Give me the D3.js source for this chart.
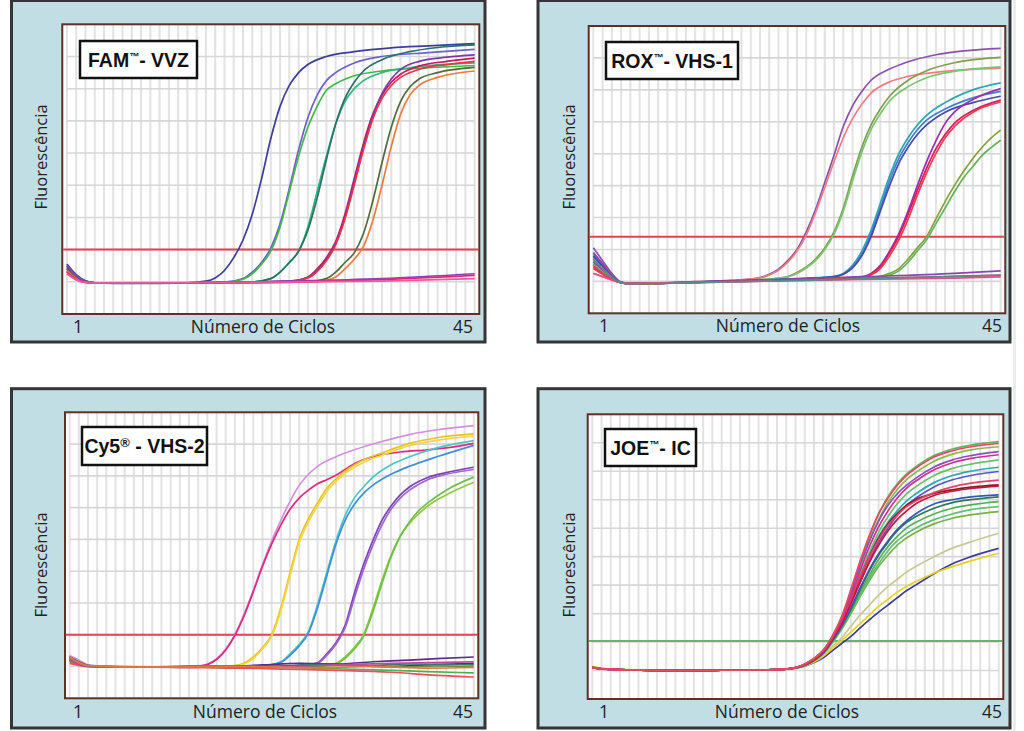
<!DOCTYPE html>
<html><head><meta charset="utf-8">
<script src="https://cdn.jsdelivr.net/npm/d3@7"></script>
<style>
html,body{margin:0;padding:0;background:#fff;}
svg{display:block;}
</style></head>
<body>
<svg id="chart" width="1024" height="731"></svg>
<script>
// ---------------- DATA ----------------
const panelTitles = ["FAM", "ROX", "Cy5", "JOE"];
const panelMarks = ["™", "™", "®", "™"];
const panelTargets = ["- VVZ", "- VHS-1", " - VHS-2", "- IC"];
const xLabel = "Número de Ciclos";
const yLabel = "Fluorescência";
const cycleTickLabels = ["1", "45"];
const cycleDomain = [1, 45];
const gridDivisions = [9, 9, 9, 10];
const thresholds = [2.0, 2.4, 2.0, 2.04];

// FAM - VVZ curves: [cycle, fluorescence]
const famSeries = [
 [[1,1.55],[2,1.22],[3,1.03],[4,0.97],[8,0.95],[14,0.97],[16,1.02],[17,1.12],[18,1.35],[19,1.75],[20,2.3],[21,3.1],[22,4.2],[23,5.45],[24,6.45],[25,7.1],[26,7.5],[27,7.75],[29,8.0],[32,8.15],[36,8.27],[40,8.33],[45,8.4]],
 [[1,1.5],[2,1.2],[3,1.02],[4,0.97],[10,0.96],[18,0.99],[20,1.1],[21,1.3],[22,1.6],[23,2.05],[24,2.8],[25,3.9],[26,5.1],[27,6.1],[28,6.8],[29,7.25],[30,7.5],[32,7.8],[35,8.0],[40,8.12],[45,8.22]],
 [[1,1.45],[2,1.15],[3,1.0],[4,0.97],[10,0.96],[18,0.99],[20,1.08],[21,1.25],[22,1.55],[23,1.95],[24,2.7],[25,3.8],[26,4.9],[27,5.8],[28,6.45],[29,6.95],[30,7.15],[32,7.4],[35,7.55],[40,7.65],[45,7.72]],
 [[1,1.4],[2,1.12],[3,1.0],[4,0.97],[12,0.96],[21,1.0],[23,1.1],[24,1.3],[25,1.6],[26,1.95],[27,2.7],[28,3.8],[29,4.9],[30,5.9],[31,6.6],[32,7.0],[33,7.25],[35,7.5],[38,7.65],[45,7.8]],
 [[1,1.5],[2,1.2],[3,1.02],[4,0.97],[12,0.96],[21,1.0],[23,1.1],[24,1.3],[25,1.6],[26,1.95],[27,2.6],[28,3.6],[29,4.8],[30,5.9],[31,6.7],[32,7.2],[33,7.55],[35,7.9],[38,8.15],[41,8.28],[45,8.36]],
 [[1,1.35],[2,1.1],[3,0.99],[4,0.97],[15,0.97],[25,1.02],[27,1.15],[28,1.4],[29,1.75],[30,2.25],[31,3.1],[32,4.2],[33,5.3],[34,6.2],[35,6.8],[36,7.2],[37,7.45],[39,7.7],[42,7.85],[45,7.95]],
 [[1,1.45],[2,1.15],[3,1.0],[4,0.97],[15,0.97],[25,1.02],[27,1.13],[28,1.35],[29,1.7],[30,2.2],[31,3.0],[32,4.1],[33,5.2],[34,6.15],[35,6.85],[36,7.3],[37,7.6],[39,7.85],[42,7.98],[45,8.05]],
 [[1,1.3],[2,1.08],[3,0.98],[4,0.97],[15,0.97],[25,1.01],[27,1.12],[28,1.32],[29,1.65],[30,2.15],[31,2.95],[32,4.0],[33,5.1],[34,6.05],[35,6.7],[36,7.1],[37,7.35],[39,7.6],[42,7.75],[45,7.85]],
 [[1,1.4],[2,1.12],[3,1.0],[4,0.97],[15,0.96],[27,1.0],[29,1.1],[30,1.3],[31,1.6],[32,1.9],[33,2.5],[34,3.5],[35,4.7],[36,5.8],[37,6.6],[38,7.05],[39,7.3],[41,7.5],[45,7.66]],
 [[1,1.35],[2,1.1],[3,0.99],[4,0.97],[15,0.96],[28,1.0],[30,1.15],[31,1.4],[32,1.7],[33,2.1],[34,2.9],[35,4.0],[36,5.2],[37,6.2],[38,6.8],[39,7.1],[41,7.35],[45,7.55]],
 [[1,1.5],[2,1.18],[3,1.01],[4,0.97],[15,0.97],[25,1.02],[35,1.1],[45,1.25]],
 [[1,1.3],[2,1.08],[3,0.98],[4,0.97],[15,0.97],[25,1.0],[35,1.07],[45,1.2]],
 [[1,1.25],[2,1.06],[3,0.98],[4,0.97],[20,0.98],[35,1.02],[45,1.1]]
];
const famColors = ["#3c3c9c","#6d5fcf","#45b649","#2fb877","#2b6f6a","#c8175d","#7a3aa8","#e8344a","#4f6b3a","#ec7b3c","#8f3fb0","#e3238b","#ec5a9a"];

// ROX - VHS-1 curves
const roxSeries = [
 [[1,2.05],[2,1.65],[3,1.25],[4,0.98],[5,0.93],[8,0.95],[12,0.99],[16,1.03],[19,1.12],[20,1.22],[21,1.38],[22,1.65],[23,2.0],[24,2.55],[25,3.25],[26,4.1],[27,4.95],[28,5.85],[29,6.5],[30,6.95],[31,7.3],[33,7.65],[35,7.88],[38,8.1],[41,8.22],[45,8.3]],
 [[1,1.25],[2,1.15],[3,1.05],[4,0.97],[5,0.94],[8,0.95],[12,0.99],[16,1.03],[19,1.1],[20,1.2],[21,1.35],[22,1.6],[23,1.95],[24,2.45],[25,3.15],[26,3.95],[27,4.75],[28,5.5],[29,6.1],[30,6.55],[31,6.9],[33,7.25],[35,7.42],[38,7.55],[45,7.68]],
 [[1,1.9],[2,1.55],[3,1.2],[4,0.97],[5,0.92],[8,0.94],[12,0.98],[16,1.02],[20,1.07],[22,1.15],[23,1.28],[24,1.45],[25,1.7],[26,2.05],[27,2.55],[28,3.3],[29,4.3],[30,5.2],[31,5.9],[32,6.4],[33,6.8],[35,7.3],[37,7.6],[40,7.85],[45,8.02]],
 [[1,1.7],[2,1.4],[3,1.12],[4,0.96],[5,0.92],[8,0.94],[12,0.98],[16,1.02],[20,1.07],[22,1.14],[23,1.25],[24,1.42],[25,1.65],[26,2.0],[27,2.48],[28,3.2],[29,4.15],[30,5.05],[31,5.75],[32,6.25],[33,6.65],[35,7.1],[37,7.38],[40,7.58],[45,7.72]],
 [[1,1.85],[2,1.5],[3,1.18],[4,0.97],[5,0.93],[8,0.94],[12,0.98],[18,1.04],[24,1.1],[27,1.16],[28,1.25],[29,1.5],[30,1.95],[31,2.6],[32,3.45],[33,4.3],[34,5.0],[35,5.5],[36,5.9],[37,6.2],[39,6.6],[42,7.0],[45,7.22]],
 [[1,1.75],[2,1.45],[3,1.15],[4,0.97],[5,0.93],[8,0.94],[12,0.98],[18,1.03],[24,1.09],[27,1.15],[28,1.23],[29,1.45],[30,1.85],[31,2.5],[32,3.3],[33,4.15],[34,4.85],[35,5.35],[36,5.75],[37,6.05],[39,6.4],[42,6.75],[45,6.95]],
 [[1,1.8],[2,1.48],[3,1.16],[4,0.97],[5,0.93],[8,0.94],[12,0.98],[18,1.03],[24,1.09],[27,1.14],[28,1.22],[29,1.42],[30,1.8],[31,2.4],[32,3.2],[33,4.0],[34,4.7],[35,5.2],[36,5.6],[37,5.9],[39,6.3],[42,6.6],[45,6.8]],
 [[1,1.6],[2,1.35],[3,1.1],[4,0.96],[5,0.93],[8,0.94],[14,0.99],[20,1.04],[26,1.1],[30,1.15],[31,1.25],[32,1.5],[33,1.95],[34,2.5],[35,3.2],[36,4.0],[37,4.75],[38,5.4],[39,5.95],[40,6.3],[42,6.7],[45,7.04]],
 [[1,1.5],[2,1.3],[3,1.08],[4,0.96],[5,0.93],[8,0.94],[14,0.99],[20,1.03],[26,1.08],[30,1.13],[31,1.22],[32,1.45],[33,1.9],[34,2.42],[35,3.1],[36,3.85],[37,4.55],[38,5.15],[39,5.6],[40,5.95],[42,6.35],[45,6.68]],
 [[1,1.4],[2,1.22],[3,1.05],[4,0.96],[5,0.93],[8,0.94],[14,0.98],[20,1.02],[26,1.07],[30,1.12],[31,1.2],[32,1.4],[33,1.8],[34,2.3],[35,2.95],[36,3.7],[37,4.4],[38,5.0],[39,5.5],[40,5.85],[42,6.3],[45,6.62]],
 [[1,1.7],[2,1.4],[3,1.12],[4,0.96],[5,0.92],[8,0.94],[14,0.98],[20,1.03],[28,1.1],[32,1.16],[33,1.25],[34,1.4],[35,1.7],[36,2.05],[37,2.4],[38,2.95],[39,3.5],[40,4.0],[41,4.45],[42,4.85],[43,5.2],[44,5.5],[45,5.74]],
 [[1,1.55],[2,1.3],[3,1.08],[4,0.95],[5,0.92],[8,0.94],[14,0.98],[20,1.02],[28,1.08],[32,1.14],[33,1.2],[34,1.33],[35,1.6],[36,1.95],[37,2.3],[38,2.8],[39,3.3],[40,3.8],[41,4.25],[42,4.6],[43,4.95],[44,5.2],[45,5.42]],
 [[1,1.9],[2,1.55],[3,1.2],[4,0.97],[5,0.93],[10,0.96],[20,1.04],[30,1.14],[40,1.25],[45,1.33]],
 [[1,1.45],[2,1.25],[3,1.07],[4,0.96],[5,0.93],[10,0.95],[20,1.02],[30,1.09],[40,1.15],[45,1.19]],
 [[1,1.25],[2,1.15],[3,1.04],[4,0.97],[5,0.94],[10,0.95],[20,1.01],[30,1.06],[40,1.1],[45,1.14]],
 [[1,1.65],[2,1.4],[3,1.12],[4,0.96],[5,0.93],[12,0.96],[25,1.04],[45,1.2]]
];
const roxColors = ["#8b4fae","#f27a86","#7f9e4f","#79c66e","#29a7b0","#3f7fd0","#4a4aa8","#9a2fb0","#d81b60","#ee3a4a","#86a03c","#63b35a","#8e44ad","#e8364a","#ea4f8f","#5a8a8a"];

// Cy5 - VHS-2 curves
const cySeries = [
 [[1,1.35],[2,1.2],[3,1.05],[4,0.99],[8,0.98],[12,0.99],[15,1.02],[16,1.08],[17,1.25],[18,1.55],[19,2.0],[20,2.65],[21,3.4],[22,4.2],[23,4.95],[24,5.6],[25,6.2],[26,6.7],[27,7.05],[28,7.3],[30,7.6],[32,7.82],[35,8.08],[38,8.3],[41,8.45],[45,8.58]],
 [[1,1.2],[2,1.12],[3,1.02],[4,0.99],[8,0.98],[12,0.99],[15,1.01],[16,1.06],[17,1.22],[18,1.52],[19,1.98],[20,2.6],[21,3.35],[22,4.15],[23,4.85],[24,5.45],[25,5.95],[26,6.3],[27,6.55],[28,6.75],[29,6.88],[30,7.02],[31,7.2],[32,7.38],[34,7.6],[37,7.75],[40,7.82],[43,7.92],[45,8.02]],
 [[1,1.3],[2,1.15],[3,1.03],[4,0.99],[10,0.98],[16,0.99],[19,1.03],[20,1.1],[21,1.3],[22,1.6],[23,2.0],[24,2.85],[25,3.95],[26,5.0],[27,5.65],[28,6.15],[29,6.6],[30,6.9],[31,7.15],[33,7.5],[35,7.72],[38,8.02],[41,8.2],[45,8.32]],
 [[1,1.25],[2,1.12],[3,1.02],[4,0.99],[10,0.98],[16,0.99],[19,1.02],[20,1.08],[21,1.25],[22,1.55],[23,1.95],[24,2.75],[25,3.85],[26,4.9],[27,5.55],[28,6.05],[29,6.5],[30,6.82],[31,7.08],[33,7.42],[35,7.65],[38,7.95],[41,8.12],[45,8.25]],
 [[1,1.25],[2,1.12],[3,1.02],[4,0.99],[10,0.98],[18,0.99],[22,1.02],[24,1.15],[25,1.4],[26,1.7],[27,2.1],[28,2.95],[29,3.95],[30,4.95],[31,5.75],[32,6.3],[33,6.65],[34,6.95],[36,7.35],[38,7.6],[41,7.88],[45,8.11]],
 [[1,1.2],[2,1.1],[3,1.01],[4,0.99],[10,0.98],[18,0.99],[22,1.02],[24,1.13],[25,1.35],[26,1.65],[27,2.05],[28,2.85],[29,3.85],[30,4.85],[31,5.6],[32,6.1],[33,6.45],[34,6.7],[36,7.05],[38,7.3],[41,7.6],[45,7.96]],
 [[1,1.3],[2,1.15],[3,1.03],[4,0.99],[10,0.98],[20,1.0],[26,1.03],[28,1.12],[29,1.4],[30,1.75],[31,2.3],[32,3.3],[33,4.2],[34,4.95],[35,5.6],[36,6.05],[37,6.4],[38,6.65],[40,6.95],[42,7.1],[45,7.27]],
 [[1,1.22],[2,1.1],[3,1.01],[4,0.99],[10,0.98],[20,1.0],[26,1.03],[28,1.1],[29,1.35],[30,1.7],[31,2.22],[32,3.15],[33,4.05],[34,4.8],[35,5.45],[36,5.95],[37,6.3],[38,6.55],[40,6.88],[42,7.05],[45,7.2]],
 [[1,1.25],[2,1.1],[3,1.02],[4,0.99],[10,0.98],[20,0.99],[28,1.02],[30,1.1],[31,1.3],[32,1.6],[33,2.0],[34,2.8],[35,3.7],[36,4.5],[37,5.1],[38,5.5],[39,5.8],[40,6.05],[42,6.4],[45,6.8]],
 [[1,1.18],[2,1.08],[3,1.01],[4,0.99],[10,0.98],[20,0.99],[28,1.02],[30,1.08],[31,1.26],[32,1.55],[33,1.95],[34,2.7],[35,3.6],[36,4.45],[37,5.1],[38,5.55],[39,5.9],[40,6.15],[42,6.55],[45,6.96]],
 [[1,1.3],[3,1.03],[6,0.98],[10,0.99],[14,0.97],[18,1.0],[22,1.05],[26,1.1],[30,1.08],[34,1.15],[38,1.2],[41,1.25],[45,1.3]],
 [[1,1.2],[3,1.02],[8,0.98],[14,0.99],[20,0.96],[26,1.03],[30,1.06],[35,1.0],[40,1.05],[45,1.1]],
 [[1,1.3],[3,1.04],[8,0.99],[15,1.0],[22,0.98],[28,1.06],[33,1.02],[38,1.08],[45,1.05]],
 [[1,1.15],[3,1.0],[8,0.99],[16,0.98],[24,0.97],[30,0.93],[36,0.88],[40,0.84],[45,0.8]],
 [[1,1.1],[3,1.0],[10,0.98],[18,0.96],[24,0.92],[30,0.88],[36,0.82],[41,0.72],[45,0.67]],
 [[1,1.25],[3,1.02],[10,0.99],[18,1.01],[25,0.98],[31,1.04],[37,0.98],[41,1.02],[45,0.98]],
 [[1,1.2],[3,1.0],[9,0.98],[16,1.02],[24,0.99],[30,1.05],[36,1.1],[45,1.15]],
 [[1,1.3],[3,1.03],[10,0.98],[20,1.0],[28,0.96],[34,1.0],[40,0.95],[45,0.97]]
];
const cyColors = ["#d38fdc","#e0287f","#e8c51a","#f2d54a","#4cc5c9","#3f8fd6","#7a3fba","#a066c8","#8fc93a","#6cc04a","#5b2d8a","#2e3b8c","#2d7a7a","#4caf50","#e8505a","#7a8a3a","#c04a9a","#e07a3a"];

// JOE - IC curves (shared cycles)
const joeCycles = [1,2,5,10,15,20,22,23,24,25,26,27,28,29,30,31,32,33,34,35,36,38,40,42,45];
const joeSeries = [
 [1.12,1.07,1.02,1.0,1.01,1.02,1.05,1.08,1.17,1.32,1.55,1.85,2.15,2.55,2.95,3.3,3.65,3.95,4.2,4.45,4.65,5.0,5.3,5.52,5.82],
 [1.1,1.06,1.02,1.0,1.01,1.02,1.05,1.08,1.15,1.28,1.45,1.7,1.95,2.2,2.5,2.78,3.05,3.3,3.55,3.8,4.0,4.4,4.75,5.0,5.29],
 [1.14,1.08,1.03,1.0,1.01,1.02,1.05,1.08,1.16,1.3,1.5,1.78,2.05,2.35,2.65,2.95,3.25,3.5,3.75,3.95,4.12,4.42,4.65,4.85,5.12],
 [1.1,1.06,1.02,1.0,1.01,1.02,1.05,1.09,1.18,1.34,1.58,1.98,2.45,3.0,3.6,4.15,4.65,5.05,5.4,5.65,5.85,6.15,6.35,6.47,6.58],
 [1.11,1.06,1.02,1.0,1.01,1.02,1.05,1.09,1.19,1.35,1.6,2.0,2.48,3.05,3.65,4.25,4.75,5.2,5.55,5.8,6.0,6.3,6.5,6.65,6.76],
 [1.1,1.06,1.02,1.0,1.01,1.02,1.05,1.09,1.19,1.35,1.6,2.02,2.5,3.1,3.75,4.35,4.9,5.35,5.7,6.0,6.2,6.5,6.7,6.82,6.93],
 [1.12,1.07,1.02,1.0,1.01,1.02,1.05,1.09,1.19,1.36,1.62,2.05,2.55,3.15,3.85,4.5,5.05,5.5,5.9,6.2,6.4,6.7,6.9,7.0,7.1],
 [1.1,1.06,1.02,1.0,1.01,1.02,1.05,1.09,1.19,1.36,1.62,2.05,2.55,3.2,3.9,4.55,5.1,5.55,5.95,6.25,6.5,6.85,7.0,7.1,7.17],
 [1.12,1.07,1.02,1.0,1.01,1.02,1.05,1.09,1.2,1.39,1.66,2.12,2.72,3.5,4.35,5.15,5.85,6.4,6.85,7.2,7.45,7.85,8.1,8.25,8.4],
 [1.1,1.06,1.02,1.0,1.01,1.02,1.05,1.1,1.21,1.4,1.68,2.15,2.75,3.5,4.3,5.05,5.7,6.2,6.6,6.95,7.2,7.6,7.85,8.0,8.14],
 [1.11,1.06,1.02,1.0,1.01,1.02,1.05,1.09,1.2,1.38,1.65,2.1,2.65,3.35,4.1,4.85,5.5,6.0,6.45,6.8,7.05,7.45,7.7,7.85,7.99],
 [1.12,1.07,1.02,1.0,1.01,1.02,1.05,1.1,1.22,1.42,1.7,2.2,2.85,3.8,4.8,5.7,6.5,7.1,7.55,7.9,8.15,8.55,8.78,8.92,9.04],
 [1.13,1.07,1.02,1.0,1.01,1.02,1.05,1.1,1.22,1.42,1.7,2.18,2.82,3.7,4.65,5.55,6.3,6.9,7.35,7.7,7.95,8.35,8.6,8.75,8.86],
 [1.1,1.06,1.02,1.0,1.01,1.02,1.05,1.1,1.22,1.42,1.7,2.2,2.85,3.75,4.7,5.55,6.25,6.8,7.2,7.5,7.75,8.15,8.4,8.55,8.69],
 [1.1,1.06,1.02,1.0,1.01,1.02,1.05,1.1,1.21,1.39,1.66,2.12,2.7,3.45,4.25,5.0,5.65,6.15,6.5,6.8,7.0,7.22,7.35,7.44,7.52],
 [1.11,1.06,1.02,1.0,1.01,1.02,1.05,1.09,1.2,1.38,1.65,2.1,2.65,3.35,4.1,4.8,5.4,5.9,6.3,6.6,6.85,7.15,7.3,7.4,7.48],
 [1.1,1.06,1.02,1.0,1.01,1.02,1.05,1.1,1.21,1.4,1.68,2.15,2.75,3.5,4.3,5.0,5.6,6.1,6.45,6.75,6.95,7.25,7.45,7.58,7.69],
 [1.09,1.05,1.02,1.0,1.01,1.02,1.05,1.1,1.21,1.4,1.68,2.15,2.78,3.6,4.5,5.35,6.05,6.6,7.05,7.4,7.65,8.05,8.3,8.45,8.58],
 [1.1,1.06,1.02,1.0,1.01,1.02,1.05,1.1,1.23,1.43,1.72,2.22,2.9,3.85,4.85,5.75,6.5,7.05,7.5,7.85,8.1,8.5,8.72,8.86,8.98]
];
const joeColors = ["#c8c894","#3c3c9c","#e8d21e","#7ab04a","#60c070","#55b055","#2b7a5a","#3a5ab0","#6bc06b","#2aaab8","#5a55c0","#5cb85c","#8db84a","#8a4fc0","#8b1a1a","#c8143c","#e8406a","#d0308a","#e84a5f"];

// ---------------- LAYOUT ----------------
const panels = [
  {outer:[11.5,0.5,485,342], plot:[62.3,24.3,479.3,314], box:[80,41,117,37], yl:[41,157], xl:[263,333], tick:[78,463],
   series: famSeries, colors: famColors, thColor:"#e8404f"},
  {outer:[538,0.5,1010,342], plot:[588.7,26,1005.3,313.3], box:[606,42,132,37], yl:[569,157], xl:[788,332], tick:[604,992],
   series: roxSeries, colors: roxColors, thColor:"#e8404f"},
  {outer:[11.5,388.7,485,728], plot:[65,412.3,478.3,698.3], box:[82,427,125,38], yl:[41,565], xl:[265,718], tick:[78,463],
   series: cySeries, colors: cyColors, thColor:"#e8404f"},
  {outer:[538,388.7,1010,728], plot:[587.7,414.3,1003.3,699], box:[605,429,91,37], yl:[569,565], xl:[787,718], tick:[604,992],
   series: joeSeries.map(vals => joeCycles.map((c,i)=>[c, vals[i]])), colors: joeColors, thColor:"#5dbb63"}
];

const svg = d3.select("#chart");
svg.append("rect").attr("x",1013).attr("y",0).attr("width",3).attr("height",731).attr("fill","#ececec");

panels.forEach((p, pi) => {
  const g = svg.append("g");
  const [ox0, oy0, ox1, oy1] = p.outer;
  g.append("rect").attr("x",ox0).attr("y",oy0).attr("width",ox1-ox0).attr("height",oy1-oy0)
    .attr("fill","#c1dee4").attr("stroke","#353535").attr("stroke-width",3);
  const [L,T,R,B] = p.plot;
  g.append("rect").attr("x",L).attr("y",T).attr("width",R-L).attr("height",B-T).attr("fill","#ffffff");

  const x = d3.scaleLinear().domain([cycleDomain[0]-0.5, cycleDomain[1]+0.5]).range([L, R]);
  const y = d3.scaleLinear().domain([0, gridDivisions[pi]]).range([B, T]);

  // vertical grid
  g.append("g").selectAll("line").data(d3.range(cycleDomain[0], cycleDomain[1]+1)).join("line")
    .attr("x1",d=>x(d)).attr("x2",d=>x(d)).attr("y1",T+1).attr("y2",B-1)
    .attr("stroke","#e2e2e2").attr("stroke-width",2);
  // horizontal grid
  g.append("g").selectAll("line").data(d3.range(1, gridDivisions[pi])).join("line")
    .attr("x1",x(cycleDomain[0])).attr("x2",x(cycleDomain[1])).attr("y1",d=>y(d)).attr("y2",d=>y(d))
    .attr("stroke","#d6d6d6").attr("stroke-width",1.6);

  // label box
  const [bx,by,bw,bh] = p.box;
  g.append("rect").attr("x",bx).attr("y",by).attr("width",bw).attr("height",bh)
    .attr("fill","#fff").attr("stroke","#111").attr("stroke-width",2.5);
  const isR = panelMarks[pi]==="®";
  const t = g.append("text").attr("x",bx+bw/2).attr("y",by+bh/2+7).attr("text-anchor","middle")
    .attr("font-family","'Liberation Sans', Arial, sans-serif").attr("font-weight","bold").attr("font-size",19.5).attr("fill","#111");
  t.append("tspan").text(panelTitles[pi]);
  t.append("tspan").attr("font-size", isR ? 13 : 10).attr("dy", isR ? -6 : -7).text(panelMarks[pi]);
  t.append("tspan").attr("dy", isR ? 6 : 7).text(panelTargets[pi]);

  // threshold
  g.append("line").attr("x1",L+1).attr("x2",R-1).attr("y1",y(thresholds[pi])).attr("y2",y(thresholds[pi]))
    .attr("stroke",p.thColor).attr("stroke-width",2);

  // curves
  const line = d3.line().x(d=>x(d[0])).y(d=>y(d[1])).curve(d3.curveMonotoneX);
  g.append("g").selectAll("path").data(p.series).join("path")
    .attr("d", line).attr("fill","none").attr("stroke",(d,i)=>p.colors[i]).attr("stroke-width",1.7)
    .attr("stroke-linejoin","round");

  // plot border
  g.append("rect").attr("x",L).attr("y",T).attr("width",R-L).attr("height",B-T)
    .attr("fill","none").attr("stroke","#5e3026").attr("stroke-width",2);

  // axis texts
  const font = "'Open Sans', 'Noto Sans', sans-serif";
  g.append("text").attr("x",p.xl[0]).attr("y",p.xl[1]).attr("text-anchor","middle")
    .attr("font-family",font).attr("font-size",17.5).attr("fill","#222").text(xLabel);
  g.append("text").attr("x",p.tick[0]).attr("y",p.xl[1]).attr("text-anchor","middle")
    .attr("font-family",font).attr("font-size",17.5).attr("fill","#222").text(cycleTickLabels[0]);
  g.append("text").attr("x",p.tick[1]).attr("y",p.xl[1]).attr("text-anchor","middle")
    .attr("font-family",font).attr("font-size",17.5).attr("fill","#222").text(cycleTickLabels[1]);
  g.append("text").attr("transform",`translate(${p.yl[0]+6},${p.yl[1]}) rotate(-90)`).attr("text-anchor","middle")
    .attr("font-family",font).attr("font-size",16.5).attr("fill","#222").text(yLabel);
});
</script>
</body></html>
